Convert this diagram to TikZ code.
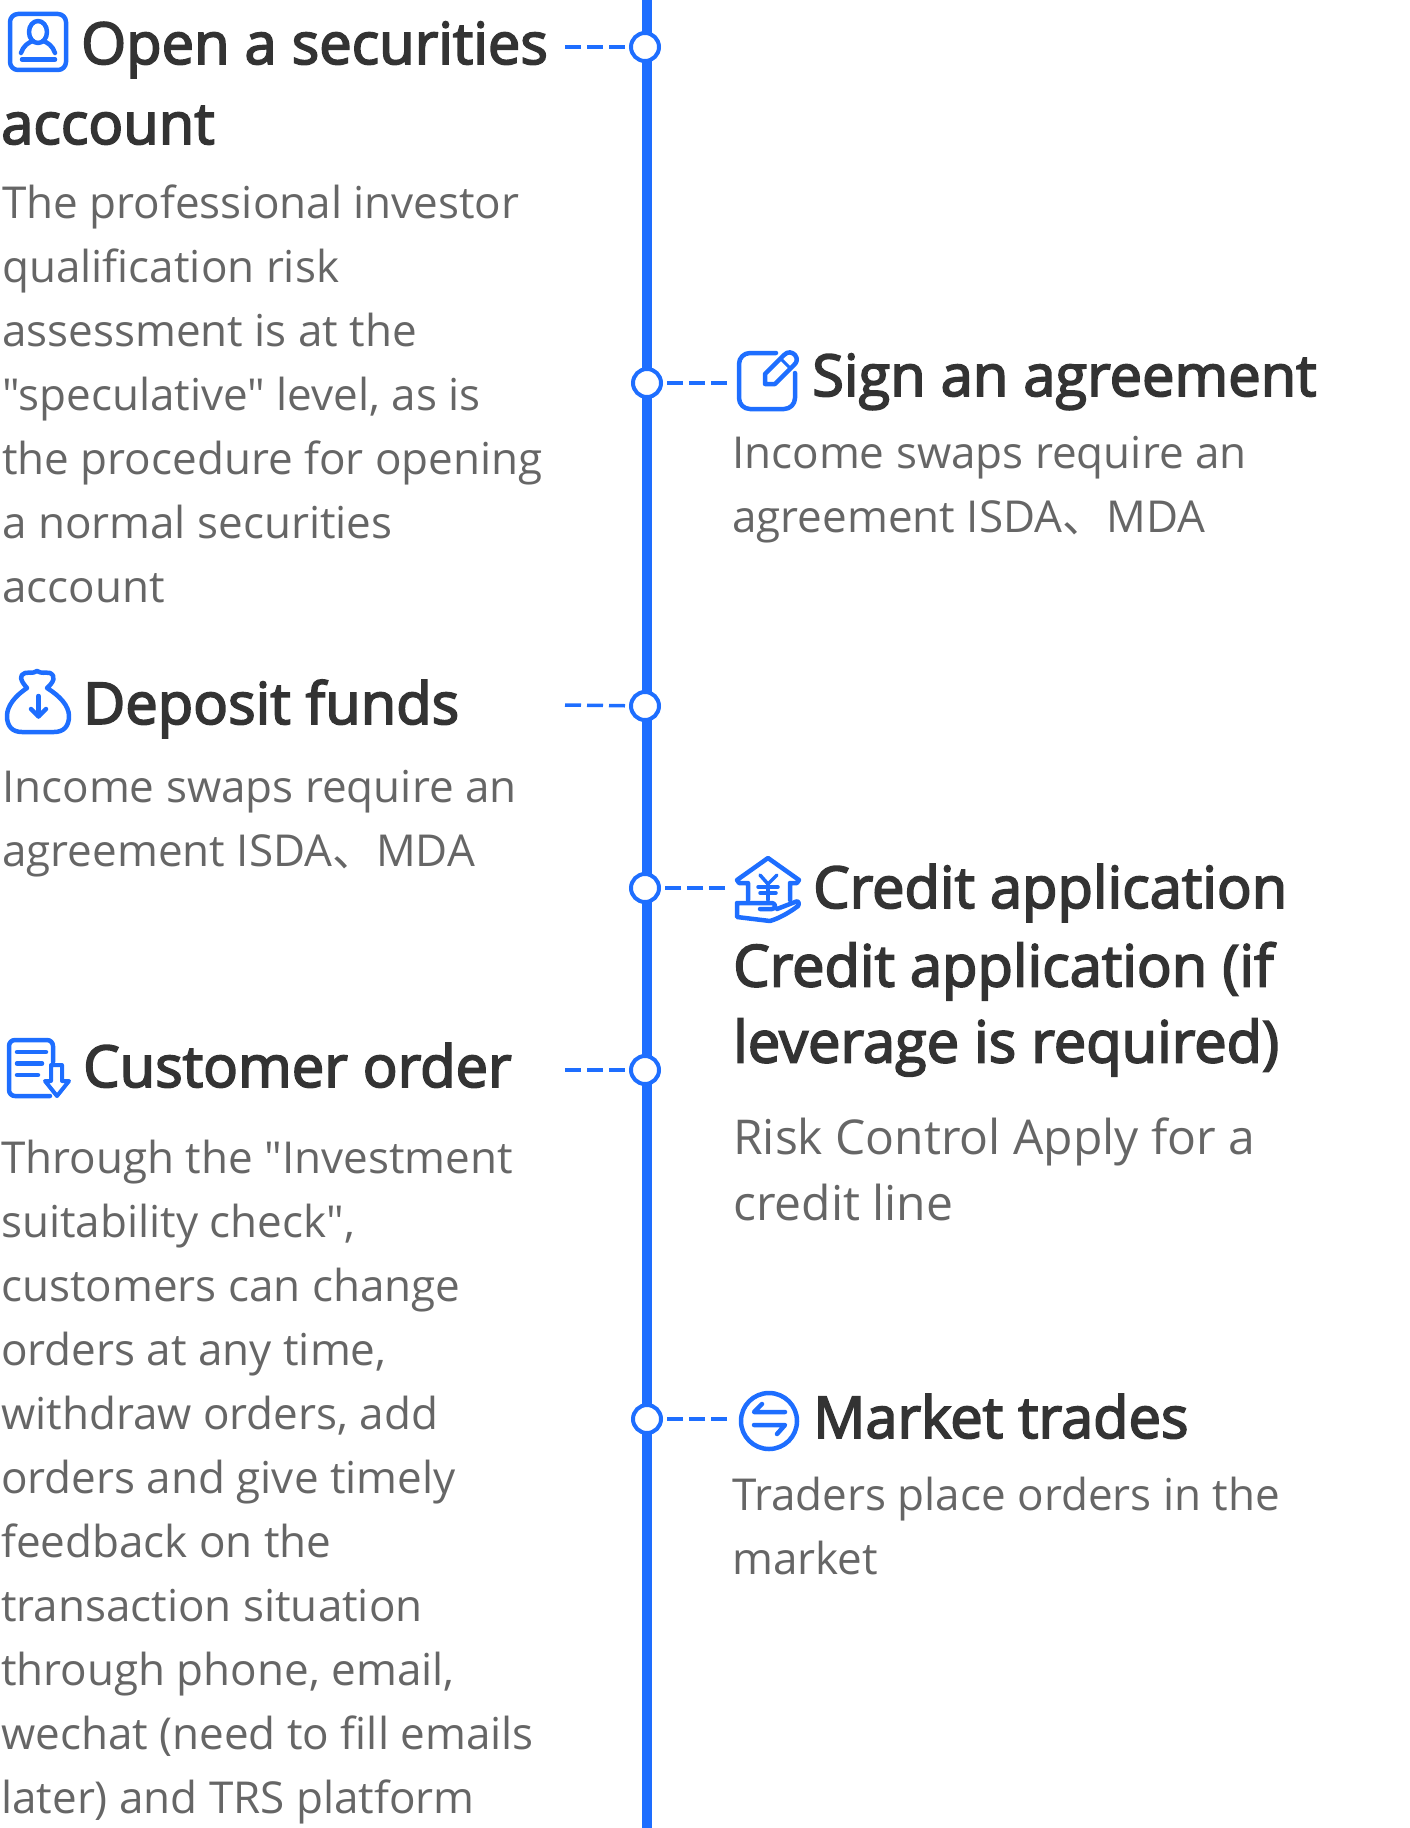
\documentclass[tikz,border=0pt]{standalone}
\usepackage{fontspec}
\setmainfont{Open Sans}[Ligatures=TeXOff]
\newfontfamily\headfont[FakeBold=3]{Open Sans}
\newfontfamily\cjkfont{Noto Sans CJK SC}
\usepackage{tikz}
\usetikzlibrary{positioning}
\definecolor{cline}{RGB}{30,110,255}
\definecolor{chead}{RGB}{51,51,51}
\definecolor{cbody}{RGB}{102,102,102}
\tikzset{
  headtext/.style={anchor=base west, inner sep=0pt, text=chead, font=\headfont\fontsize{57.8}{76}\selectfont},
  bodytext/.style={anchor=north west, inner sep=0pt, text=cbody, align=left, font=\fontsize{44}{64}\selectfont},
  stepdot/.style={circle, draw=cline, fill=white, line width=4pt, minimum size=28pt, inner sep=0pt},
  stub/.style={draw=cline, line width=3.5pt, dash pattern=on 16pt off 6pt},
  icon/.style={draw=cline, line width=4.5pt, line cap=round, line join=round}
}
\begin{document}
\begin{tikzpicture}[x=1pt,y=-1pt]
  \useasboundingbox (0,0) rectangle (1410,1828);
  % --- spine
  \coordinate (top) at (647,0);
  \coordinate (bottom) at (647,1828);
  \draw[cline, line width=10pt] (top) -- (bottom);
  % --- dots on the spine
  \node[stepdot] (dotopen) at (645,47) {};
  \node[stepdot] (dotsign) at (647,383) {};
  \node[stepdot] (dotdeposit) at (645,706) {};
  \node[stepdot] (dotcredit) at (645,888) {};
  \node[stepdot] (dotorder) at (645,1070) {};
  \node[stepdot] (dotmarket) at (647,1419) {};
  % --- dashed stubs
  \coordinate (stubopen) at (565,47);
  \coordinate (stubsign) at (727,383);
  \coordinate (stubdeposit) at (565,705);
  \coordinate (stubcredit) at (725,888);
  \coordinate (stuborder) at (565,1070);
  \coordinate (stubmarket) at (727,1419);
  \draw[stub] (stubopen) -- (dotopen);
  \draw[stub] (stubdeposit) -- (dotdeposit);
  \draw[stub] (stuborder) -- (dotorder);
  \draw[stub] (stubsign) -- (dotsign);
  \draw[stub] (stubcredit) -- (dotcredit);
  \draw[stub] (stubmarket) -- (dotmarket);
  % --- open a securities account
  \draw[icon, rounded corners=8pt] (10,14) rectangle (66,70);
  \draw[icon] (38,32) ellipse (9 and 11);
  \draw[icon] (21,53) .. controls (23,46) and (29,42) .. (33,41);
  \draw[icon] (55,53) .. controls (53,46) and (47,42) .. (43,41);
  \draw[icon] (22,59.5) -- (55,59.5);
  \node[headtext] (titleopen) at (81,64) {Open a securities};
  \node[headtext] (titleopenb) at (1,144) {account};
  \node[bodytext] (textopen) at (2,185) {The professional investor\\qualification risk\\assessment is at the\\"speculative" level, as is\\the procedure for opening\\a normal securities\\account};
  % --- sign an agreement
  \draw[icon, rounded corners=11pt] (776,353) -- (739,353) -- (739,409) -- (795,409) -- (795,373);
  \draw[icon] (765,374) -- (784,355) .. controls (788,351) and (792,352) .. (795,355) .. controls (798,359) and (797,362) .. (794,365) -- (775,384) -- (765,384) -- cycle;
  \draw[icon, line width=3pt] (782,360) -- (789,367);
  \node[headtext] (titlesign) at (812,396) {Sign an agreement};
  \node[bodytext] (textsign) at (732,436) {Income swaps require an\\agreement ISDA{\cjkfont 、}MDA};
  % --- deposit funds
  \draw[icon] (27,688) .. controls (20,680) and (19,675) .. (25,673) .. controls (30,672) and (32,674) .. (37,671) .. controls (42,674) and (45,672) .. (50,673) .. controls (56,676) and (54,682) .. (47,688) .. controls (60,696) and (69,706) .. (69,716) .. controls (69,726) and (64,732) .. (54,732) -- (22,732) .. controls (12,732) and (7,726) .. (7,716) .. controls (7,706) and (15,696) .. (27,688) -- cycle;
  \draw[icon] (38.5,696) -- (38.5,716);
  \draw[icon] (31,709) -- (38.5,716.5) -- (46,709);
  \node[headtext] (titledeposit) at (83,724) {Deposit funds};
  \node[bodytext] (textdeposit) at (2,770) {Income swaps require an\\agreement ISDA{\cjkfont 、}MDA};
  % --- credit application
  \draw[icon] (748,900) -- (748,883) -- (739,883) -- (737,880) -- (768,858) -- (799,880) -- (797,883) -- (790,883) -- (790,900);
  \draw[icon, line width=3.5pt] (760,875) -- (768,884) -- (777,875);
  \draw[icon, line width=3.5pt] (758,887) -- (778,887);
  \draw[icon, line width=3.5pt] (760,893) -- (776,893);
  \draw[icon, line width=3.5pt] (768,884) -- (768,900);
  \draw[icon] (760,909) -- (772,909) .. controls (776,909) and (776,903) .. (772,903) -- (737,903) -- (737,917) -- (770,921) .. controls (780,918) and (790,912) .. (798,906) .. controls (800,903) and (798,900) .. (795,902) -- (777,909);
  \node[headtext] (titlecredit) at (813,908) {Credit application};
  \node[headtext, align=left, anchor=north west] (titlecreditb) at (733,942) {Credit application (if\\leverage is required)};
  \node[bodytext, font=\fontsize{48}{66}\selectfont] (textcredit) at (733,1118) {Risk Control Apply for a\\credit line};
  % --- customer order
  \draw[icon, rounded corners=6pt] (50,1096) -- (9,1096) -- (9,1040) -- (53,1040) -- (53,1062);
  \draw[icon] (17,1052) -- (46,1052);
  \draw[icon] (17,1063.5) -- (42,1063.5);
  \draw[icon] (17,1075) -- (38,1075);
  \draw[icon, line width=4pt] (51,1065) -- (62,1065) -- (62,1081) -- (69,1081) -- (57,1096) -- (45,1081) -- (51,1081) -- cycle;
  \node[headtext] (titleorder) at (83,1087) {Customer order};
  \node[bodytext] (textorder) at (1,1140) {Through the "Investment\\suitability check",\\customers can change\\orders at any time,\\withdraw orders, add\\orders and give timely\\feedback on the\\transaction situation\\through phone, email,\\wechat (need to fill emails\\later) and TRS platform};
  % --- market trades
  \node[circle, draw=cline, line width=4.5pt, minimum size=56pt, inner sep=0pt] (iconmarket) at (769,1421) {};
  \draw[icon] (762,1404) -- (754,1412) -- (785,1412);
  \draw[icon] (777,1434) -- (785,1425) -- (754,1425);
  \node[headtext] (titlemarket) at (813,1438) {Market trades};
  \node[bodytext] (textmarket) at (732,1477) {Traders place orders in the\\market};
\end{tikzpicture}
\end{document}
